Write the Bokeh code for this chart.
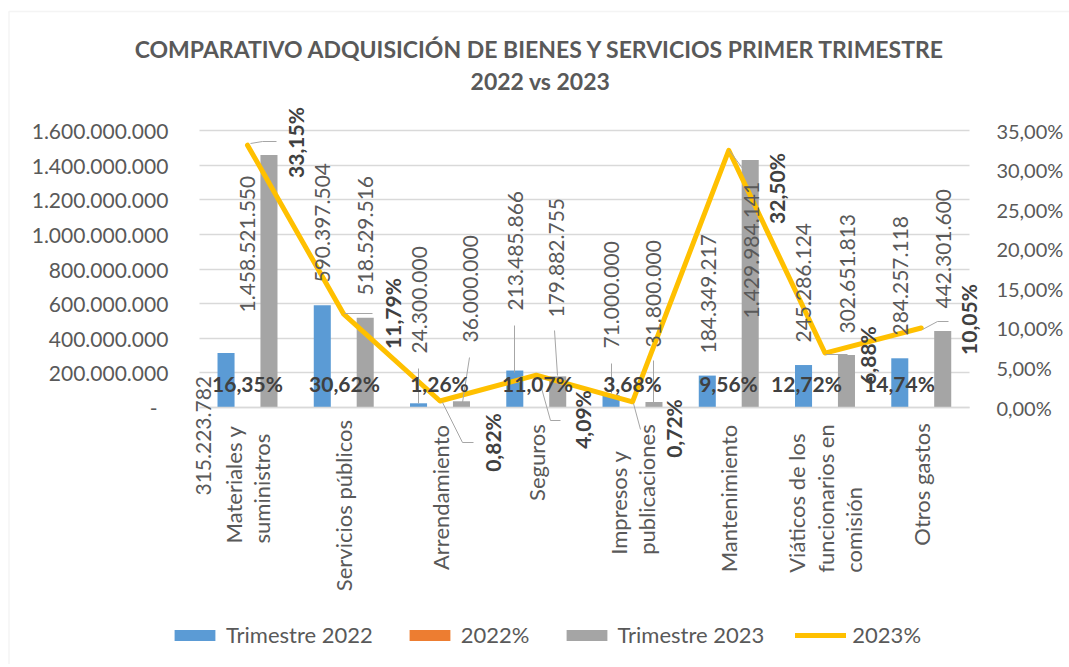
from math import pi
from bokeh.plotting import figure
from bokeh.models import (ColumnDataSource, Range1d, LinearAxis, FixedTicker, CustomJSTickFormatter,
                          LabelSet, Label, Legend, LegendItem, Arrow, BoxAnnotation)
from bokeh.transform import dodge
from bokeh.core.properties import value
from bokeh.embed import file_html
from bokeh.resources import INLINE

# ---------------- DATA ----------------
categories = ["Materiales y\nsuministros", "Servicios públicos", "Arrendamiento", "Seguros",
              "Impresos y\npublicaciones", "Mantenimiento",
              "Viáticos de los\nfuncionarios en\ncomisión", "Otros gastos"]
trimestre_2022 = [315223782, 590397504, 24300000, 213485866, 71000000, 184349217, 245286124, 284257118]
pct_2022 = [16.35, 30.62, 1.26, 11.07, 3.68, 9.56, 12.72, 14.74]
trimestre_2023 = [1458521550, 518529516, 36000000, 179882755, 31800000, 1429984141, 302651813, 442301600]
pct_2023 = [33.15, 11.79, 0.82, 4.09, 0.72, 32.50, 6.88, 10.05]
left_ticks = [0, 200000000, 400000000, 600000000, 800000000, 1000000000, 1200000000, 1400000000, 1600000000]
right_ticks = [0, 5, 10, 15, 20, 25, 30, 35]
title_lines = ["COMPARATIVO ADQUISICIÓN DE BIENES Y SERVICIOS PRIMER TRIMESTRE", "2022 vs 2023"]
legend_labels = ["Trimestre 2022", "2022%", "Trimestre 2023", "2023%"]


def fmt_num(v):
    return f"{v:,}".replace(",", ".")


def fmt_pct(v):
    return f"{v:.2f}".replace(".", ",") + "%"


# ---------------- LAYOUT ----------------
W, H = 1069, 664
N = len(categories)
YMAX, PMAX = 1600000000, 35
CAT0_PX, CAT_STEP_PX = 247.0, 96.25      # page x of first category centre, category pitch
ZERO_PX, AXIS_SPAN_PX = 407.0, 277.0     # page y of value 0, pixel height of 0..YMAX


def px_x(px):
    return (px - CAT0_PX) / CAT_STEP_PX


def px_y(py):
    return (ZERO_PX - py) / AXIS_SPAN_PX * YMAX


# label anchor positions (page pixels)
pos_val22 = [(203, 495), (322, 282), (419, 353), (515, 310), (611, 348), (708, 353), (803, 342), (900, 335)]
pos_val23 = [(247, 312), (365, 295), (470, 342), (556, 317), (653, 347), (751, 318), (847, 333), (943, 308)]
pos_pct22 = [(247, 383), (344, 383), (439, 383), (537, 383), (632, 383), (728, 383), (806, 383), (899, 383)]
pos_pct23 = [(295, 142), (392, 313), (492, 442), (582, 419), (673, 428), (776, 188), (867, 355), (968, 319)]
cat_label_mid = [484, 505, 497, 462, 489, 498, 498, 484]
leaders = [
    ((250, 143), (262, 141)), ((262, 141), (276, 141)),
    ((344, 313), (372, 313)),
    ((442, 402), (462, 442)), ((462, 442), (473, 442)),
    ((540, 384), (550, 420)), ((550, 420), (560, 420)),
    ((633, 403), (640, 429)),
    ((729, 150), (745, 172)),
    ((825, 354), (847, 354)),
    ((922, 329), (937, 321)), ((937, 321), (948, 321)),
    ((418, 368), (418, 403)), ((469, 357), (462, 402)),
    ((514, 325), (514, 372)), ((554, 330), (557, 375)),
    ((611, 363), (611, 393)), ((653, 360), (653, 403)),
]

FONT = "Lato"
TXT = "#595959"
DARK = "#404040"

src = ColumnDataSource(dict(idx=list(range(N)), t22=trimestre_2022, t23=trimestre_2023,
                            p22=[v / 100 for v in pct_2022], p23=pct_2023))

p = figure(width=W, height=H, title=None,
           x_range=Range1d(px_x(0), px_x(W)), y_range=Range1d(px_y(H), px_y(0)),
           output_backend="svg", toolbar_location=None,
           min_border_left=0, min_border_right=0, min_border_top=0, min_border_bottom=0)
p.extra_y_ranges = {"pct": Range1d(px_y(H) / YMAX * PMAX, px_y(0) / YMAX * PMAX)}
p.outline_line_color = None
p.background_fill_color = "white"
p.border_fill_color = "white"

BW = 0.177
OFF = 0.223
r22 = p.vbar(x=dodge("idx", -OFF), top="t22", width=BW, source=src, fill_color="#5B9BD5", line_color=None)
rp22 = p.vbar(x=dodge("idx", 0), top="p22", width=BW, source=src, fill_color="#ED7D31", line_color=None)
r23 = p.vbar(x=dodge("idx", OFF), top="t23", width=BW, source=src, fill_color="#A5A5A5", line_color=None)
rl = p.line(x="idx", y="p23", source=src, y_range_name="pct", line_color="#FFC000", line_width=5,
            line_join="round", line_cap="round")

# grid
p.xgrid.grid_line_color = None
p.ygrid.grid_line_color = "#d9d9d9"
p.ygrid.grid_line_width = 1.3
p.ygrid.ticker = FixedTicker(ticks=left_ticks)
p.ygrid.cross_bounds = (-0.5, N - 0.5)

# category axis
ax = p.xaxis[0]
ax.fixed_location = 0
ax.bounds = (-0.5, N - 0.5)
ax.ticker = FixedTicker(ticks=list(range(N)))
ax.major_label_overrides = {i: "" for i in range(N)}
ax.axis_line_color = "#d9d9d9"
ax.axis_line_width = 1.5
ax.major_tick_line_color = None
ax.minor_tick_line_color = None

# value axis (left)
ly = p.yaxis[0]
ly.fixed_location = -0.5
ly.ticker = FixedTicker(ticks=left_ticks)
ly.formatter = CustomJSTickFormatter(code=r"""
if (tick == 0) { return '-\u00a0\u00a0'; }
return Math.round(tick).toString().replace(/\B(?=(\d{3})+(?!\d))/g, '.');
""")
ly.axis_line_color = None
ly.major_tick_line_color = None
ly.minor_tick_line_color = None
ly.major_label_text_font = FONT
ly.major_label_text_font_size = "21px"
ly.major_label_text_color = TXT
ly.major_label_standoff = 25

# percent axis (right)
ry = LinearAxis(y_range_name="pct", fixed_location=N - 0.5, ticker=FixedTicker(ticks=right_ticks),
                formatter=CustomJSTickFormatter(code="return tick.toFixed(2).replace('.', ',') + '%';"))
ry.axis_line_color = None
ry.major_tick_line_color = None
ry.minor_tick_line_color = None
ry.major_label_text_font = FONT
ry.major_label_text_font_size = "20px"
ry.major_label_text_color = TXT
ry.major_label_standoff = 21
p.add_layout(ry, "right")

# category labels
csrc = ColumnDataSource(dict(x=list(range(N)), y=[px_y(v) for v in cat_label_mid], t=categories))
p.add_layout(LabelSet(x="x", y="y", text="t", source=csrc, angle=pi / 2, text_align="center",
                      text_baseline="middle", text_font=value(FONT), text_font_size=value("22px"),
                      text_color=value(TXT), text_line_height=1.05))

# leader lines
lsrc = ColumnDataSource(dict(x0=[px_x(a[0]) for a, b in leaders], y0=[px_y(a[1]) for a, b in leaders],
                             x1=[px_x(b[0]) for a, b in leaders], y1=[px_y(b[1]) for a, b in leaders]))
p.add_layout(Arrow(end=None, x_start="x0", y_start="y0", x_end="x1", y_end="y1", source=lsrc,
                   line_color="#a6a6a6", line_width=1))


def labelset(pos, texts, angle, align, bold, color):
    s = ColumnDataSource(dict(x=[px_x(a) for a, b in pos], y=[px_y(b) for a, b in pos], t=texts))
    return LabelSet(x="x", y="y", text="t", source=s, angle=angle, text_align=align,
                    text_baseline="middle", text_font=value(FONT), text_font_size=value("21px"),
                    text_font_style=value("bold" if bold else "normal"), text_color=value(color))


p.add_layout(labelset(pos_val22, [fmt_num(v) for v in trimestre_2022], pi / 2, "left", False, TXT))
p.add_layout(labelset(pos_val23, [fmt_num(v) for v in trimestre_2023], pi / 2, "left", False, TXT))
p.add_layout(labelset(pos_pct22, [fmt_pct(v) for v in pct_2022], 0, "center", True, DARK))
p.add_layout(labelset(pos_pct23, [fmt_pct(v) for v in pct_2023], pi / 2, "center", True, DARK))

# title
for i, line in enumerate(title_lines):
    p.add_layout(Label(x=px_x(540), y=px_y(48 + 32 * i), text=line, text_align="center",
                       text_baseline="middle", text_font=FONT, text_font_style="bold",
                       text_font_size="23px", text_color=TXT))

# chart border (right and bottom edges lie outside the picture, as in the original)
p.add_layout(BoxAnnotation(left=px_x(8.5), right=px_x(1090), top=px_y(11), bottom=px_y(690),
                           fill_alpha=0, line_color="#d9d9d9", line_width=1.5))

legend = Legend(items=[LegendItem(label=legend_labels[0], renderers=[r22]),
                       LegendItem(label=legend_labels[1], renderers=[rp22]),
                       LegendItem(label=legend_labels[2], renderers=[r23]),
                       LegendItem(label=legend_labels[3], renderers=[rl])],
                orientation="horizontal", location=(169, H - 648), glyph_width=51, glyph_height=14,
                label_text_font=FONT, label_text_font_size="22px", label_text_color=TXT,
                spacing=31, label_standoff=6, padding=0, margin=0,
                border_line_color=None, background_fill_alpha=0)
p.add_layout(legend, "center")

open("out.html", "w").write(file_html(p, INLINE))
